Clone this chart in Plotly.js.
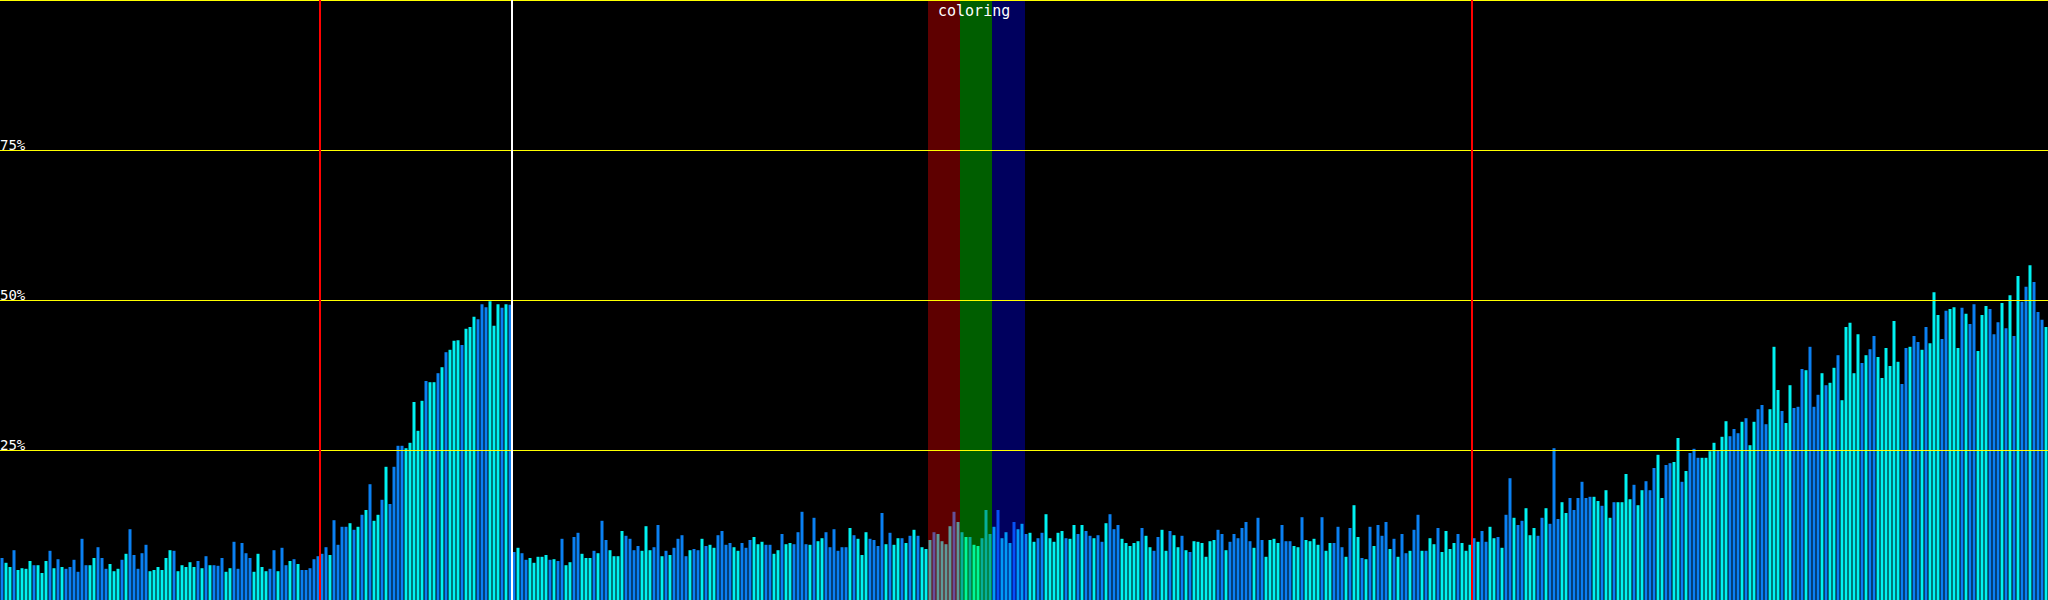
<!DOCTYPE html>
<html>
<head>
<meta charset="utf-8">
<script src="https://cdn.plot.ly/plotly-3.0.1.min.js"></script>
<style>
  html, body { margin: 0; padding: 0; background: #000; }
  #chart { width: 2048px; height: 600px; }
</style>
</head>
<body>
<div id="chart"></div>
<script>
// ---- data (percent per bar) ----
const values_000_046 = [7.0,6.2,5.5,8.3,5.0,5.3,5.2,6.5,5.8,5.8,4.5,6.5,8.2,5.3,6.8,5.5,5.2,5.5,6.7,4.7,10.2,5.8,5.8,7.0,8.8,7.0,5.2,6.0,4.8,5.2,6.7,7.7,11.8,7.5,5.2,7.8,9.2,4.8,5.0,5.5,5.0,7.0,8.3,8.2,4.8,5.8,5.5];
const values_047_093 = [6.3,5.5,6.5,5.3,7.3,5.8,5.8,5.7,7.0,4.7,5.3,9.7,5.2,9.5,7.8,7.0,4.7,7.7,5.5,4.8,5.2,8.3,4.8,8.7,5.8,6.5,6.8,6.0,5.0,5.0,5.3,6.8,7.3,7.7,8.8,7.5,13.3,9.2,12.2,12.2,12.8,11.7,12.2,14.2,15.0,19.3,13.2];
const values_094_139 = [14.2,16.7,22.2,16.0,22.2,25.7,25.7,25.3,26.2,33.0,28.2,33.2,36.5,36.3,36.3,37.8,38.8,41.3,41.7,43.2,43.3,42.5,45.2,45.5,47.2,46.8,49.3,48.8,49.8,45.7,49.3,48.7,49.3,49.2,8.0,8.7,7.8,6.7,7.0,6.2,7.2,7.2,7.5,6.7,6.8,6.5];
const values_140_186 = [10.2,5.8,6.3,10.5,11.2,7.7,7.0,7.0,8.2,7.8,13.2,10.0,8.3,7.3,7.3,11.5,10.7,10.2,8.3,9.0,8.2,12.3,8.3,8.8,12.5,7.3,8.2,7.5,8.7,10.2,10.8,7.3,8.3,8.5,8.3,10.2,9.0,9.2,8.7,10.8,11.5,9.2,9.5,8.8,8.2,9.5,8.7];
const values_187_233 = [10.0,10.5,9.3,9.7,9.2,9.2,7.7,8.3,11.0,9.3,9.5,9.3,11.3,14.7,9.3,9.2,13.7,9.8,10.3,11.3,8.8,11.8,8.2,8.8,8.8,12.0,10.8,10.2,7.5,11.3,10.2,10.0,9.0,14.5,9.3,11.2,9.2,10.3,10.3,9.5,10.7,11.7,10.7,8.8,8.5,10.0,11.3];
const values_234_280 = [11.0,9.8,9.3,12.3,14.7,13.0,11.3,10.5,10.5,9.2,9.0,10.3,15.0,11.0,12.2,15.0,10.3,11.3,9.5,13.0,11.8,12.7,11.0,11.2,9.7,10.3,11.2,14.3,10.3,9.7,11.2,11.5,10.3,10.2,12.5,11.0,12.5,11.5,10.7,10.3,10.8,9.7,12.8,14.3,11.8,12.5,10.2];
const values_281_326 = [9.5,9.0,9.5,9.8,12.0,10.7,8.8,8.2,10.5,11.7,8.2,11.5,10.8,8.8,10.7,8.3,8.0,9.8,9.7,9.5,7.2,9.8,10.0,11.7,11.0,8.3,9.7,11.0,10.3,12.0,13.0,9.8,8.7,13.7,10.0,7.2,10.0,10.2,9.5,12.5,9.8,9.8,9.0,8.8,13.8,10.0];
const values_327_373 = [9.8,10.2,9.2,13.8,8.2,9.5,9.5,12.2,8.8,7.2,12.0,15.8,10.5,7.0,6.8,12.2,9.0,12.5,10.7,13.0,8.5,10.2,7.2,11.0,7.8,8.2,11.7,14.2,8.2,8.2,10.3,9.3,12.0,8.0,11.5,8.5,9.5,11.0,9.5,8.2,9.2,10.3,9.7,11.5,9.7,12.2,10.3];
const values_374_420 = [10.5,8.7,14.2,20.3,13.7,12.5,13.2,15.3,10.8,12.0,10.7,13.7,15.3,12.7,25.3,13.5,16.3,14.5,17.0,15.0,17.0,19.7,17.0,17.2,17.2,16.5,15.7,18.3,13.7,16.3,16.3,16.3,21.0,16.8,19.2,15.8,18.3,19.8,18.3,22.0,24.2,17.0,22.5,22.8,23.0,27.0,19.7];
const values_421_467 = [21.5,24.5,25.2,23.7,23.7,23.7,24.8,26.2,25.0,27.2,29.8,27.3,28.5,27.8,29.7,30.3,25.8,29.7,31.8,32.5,29.3,31.8,42.2,35.0,31.5,29.5,35.8,32.0,32.2,38.5,38.3,42.2,32.2,34.2,37.8,35.8,36.2,38.7,40.8,33.3,45.5,46.2,37.8,44.3,39.5,40.8,41.8];
const values_468_511 = [44.0,40.5,37.0,42.0,39.0,46.5,39.7,36.0,42.0,42.2,44.0,43.0,41.7,45.5,42.8,51.3,47.5,43.5,48.2,48.5,48.8,42.0,48.7,47.7,46.0,49.3,41.5,47.5,49.0,48.5,44.3,46.3,49.5,45.3,50.8,44.0,54.0,49.7,52.2,55.8,53.0,48.0,46.7,45.5];

// tone of each bar: b = blue, c = cyan
const tones = [
  "bccbccccbcccbcbcbbbbbbccbbbcccbcbbbbbccccccbccc",
  "ccbcbcbbbccbbbbbccccbbcbbcbcbbbbbbbcbbbbcbcbcbc",
  "cbcbbbbcccccbccbcbcccbcccbbbcccbcbbcbbcccccbcb",
  "bccbbcccbcbbccccbbbbcccbbcbcbbbbcbbcbccbbbbccbb",
  "bcccbbccbccbbbbcbccbbbbbbcbcccbbbbcbccbcbcbcccb",
  "ccccbcbcbccbbbcbcccbccbccbbcccccbccbcbbcbbcbbbc",
  "ccccbccbbccbccbcbccccccbbcbbbbbbcbbccccbbbccbc",
  "cccbccbbbcbccbcbcbbbcbcbbcbbcbccbccccbcccbcbbcc",
  "bcbbcbbcccbbcbbbccbbbbbbccbccbccccbccbbbccbbccb",
  "cbbbccccbccbbbcbccbbbcccbccbbbcbbbcbccbcccccbcb",
  "bccccccbbcbbcbcccbbcccbcbbcccbbbcbcbcbbcbbbc"
].join("");

const levels = [25, 50, 75];
const levelLabels = ["25%", "50%", "75%"];
const markers = [79.5, 127.5, 367.5];           // bar boundaries with vertical lines
const markerColors = ["#ff0000", "#ffffff", "#ff0000"];
const bands = [[231.5, 239.5], [239.5, 247.5], [247.5, 255.75]];
const bandColors = ["rgba(255,0,0,0.37)", "rgba(0,255,0,0.37)", "rgba(0,0,255,0.37)"];
const bandTitle = "coloring";

const values = [].concat(values_000_046, values_047_093, values_094_139, values_140_186,
  values_187_233, values_234_280, values_281_326, values_327_373, values_374_420,
  values_421_467, values_468_511);
const xs = values.map((_, i) => i);
const BLUE = "#0a80f2", CYAN = "#00f2f2";
const colors = tones.split("").map(t => t === "b" ? BLUE : CYAN);

const shapes = [];
bands.forEach((b, i) => shapes.push({
  type: "rect", layer: "above", xref: "x", yref: "paper",
  x0: b[0], x1: b[1], y0: 0, y1: 1,
  fillcolor: bandColors[i], line: { width: 0 }
}));
const px = 100 / 600; // one pixel in y units
levels.concat([100]).forEach(l => shapes.push({
  type: "line", layer: "above", xref: "paper", yref: "y",
  x0: 0, x1: 1, y0: l - px / 2, y1: l - px / 2,
  line: { color: "#ffff00", width: 1 }
}));
markers.forEach((m, i) => shapes.push({
  type: "line", layer: "above", xref: "x", yref: "paper",
  x0: m, x1: m, y0: 0, y1: 1,
  line: { color: markerColors[i], width: 2 }
}));

const annotations = levels.map((l, i) => ({
  xref: "paper", yref: "y", x: 0, y: l, xanchor: "left", yanchor: "bottom",
  text: levelLabels[i], showarrow: false, xshift: -2, yshift: -5,
  font: { family: "DejaVu Sans Mono", size: 14, color: "#ffffff" }
}));
annotations.push({
  xref: "x", yref: "paper", x: (bands[0][0] + bands[2][1]) / 2, y: 1,
  xanchor: "center", yanchor: "top", text: bandTitle, showarrow: false, xshift: -3, yshift: 0,
  font: { family: "DejaVu Sans Mono", size: 15, color: "#ffffff" }
});

Plotly.newPlot("chart", [{
  type: "bar", x: xs, y: values,
  marker: { color: colors, line: { width: 0 } },
  hoverinfo: "skip"
}], {
  width: 2048, height: 600,
  margin: { l: 0, r: 0, t: 0, b: 0, pad: 0 },
  paper_bgcolor: "#000000", plot_bgcolor: "#000000",
  bargap: 0.25, showlegend: false,
  xaxis: { range: [-0.5, 511.5], visible: false, fixedrange: true },
  yaxis: { range: [0, 100], visible: false, fixedrange: true },
  shapes: shapes, annotations: annotations
}, { staticPlot: true, displayModeBar: false });
</script>
</body>
</html>
